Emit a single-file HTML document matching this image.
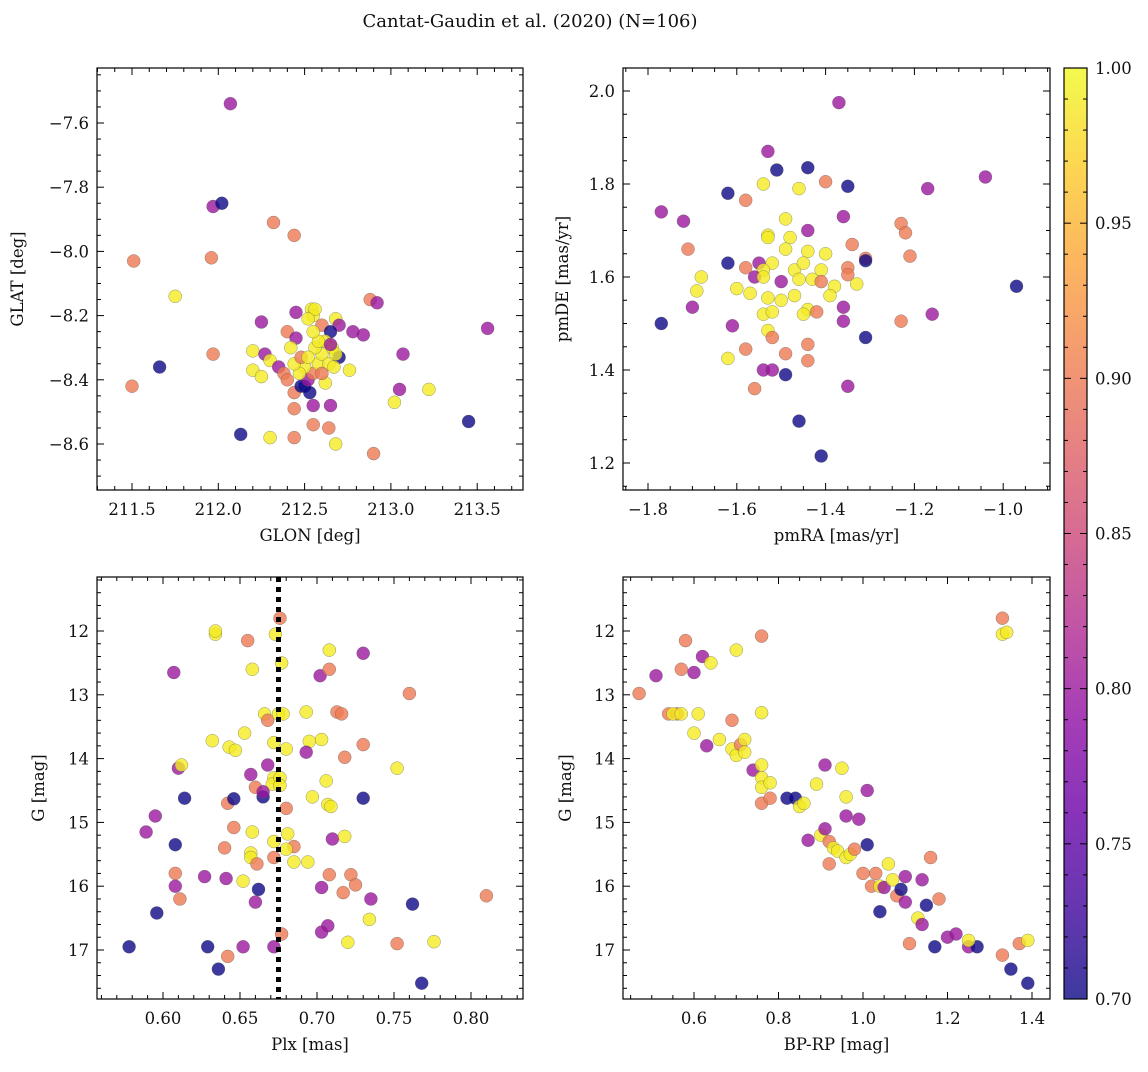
<!DOCTYPE html>
<html><head><meta charset="utf-8"><style>
body{margin:0;background:#fff}
svg text{font-family:"DejaVu Serif","Liberation Serif",serif;fill:#111}
</style></head><body>
<svg id="fig" width="1148" height="1067" xmlns="http://www.w3.org/2000/svg">
<defs>
<linearGradient id="plasma" x1="0" y1="1" x2="0" y2="0">
<stop offset="0" stop-color="#0d0887"/><stop offset="0.1" stop-color="#41049d"/><stop offset="0.2" stop-color="#6a00a8"/><stop offset="0.3" stop-color="#8f0da4"/><stop offset="0.4" stop-color="#b12a90"/><stop offset="0.5" stop-color="#cc4778"/><stop offset="0.6" stop-color="#e16462"/><stop offset="0.7" stop-color="#f2844b"/><stop offset="0.8" stop-color="#fca636"/><stop offset="0.9" stop-color="#fcce25"/><stop offset="1" stop-color="#f0f921"/>
</linearGradient></defs>
<text x="530" y="27" font-size="18" text-anchor="middle">Cantat-Gaudin et al. (2020) (N=106)</text>
<g id="root"></g>
</svg>
<script>
const Y=0.99,O=0.90,M=0.80,B=0.70;
const glonGlat=[[212.07,-7.54,M],[211.97,-7.86,M],[212.02,-7.85,B],[212.32,-7.91,O],[212.44,-7.95,O],[211.51,-8.03,O],[211.96,-8.02,O],[211.75,-8.14,Y],[211.97,-8.32,O],[211.5,-8.42,O],[211.66,-8.36,B],[212.13,-8.57,B],[212.3,-8.58,Y],[212.44,-8.58,O],[212.55,-8.54,O],[212.64,-8.55,O],[212.68,-8.60,Y],[212.9,-8.63,O],[212.55,-8.48,M],[212.65,-8.48,M],[212.44,-8.49,O],[213.02,-8.47,Y],[213.05,-8.43,M],[213.22,-8.43,Y],[213.45,-8.53,B],[213.07,-8.32,M],[213.56,-8.24,M],[212.88,-8.15,O],[212.92,-8.16,M],[212.45,-8.19,M],[212.54,-8.18,Y],[212.55,-8.2,Y],[212.56,-8.18,Y],[212.52,-8.21,Y],[212.6,-8.23,O],[212.68,-8.21,Y],[212.7,-8.23,M],[212.65,-8.25,B],[212.78,-8.25,M],[212.84,-8.26,M],[212.25,-8.22,M],[212.4,-8.25,O],[212.45,-8.27,M],[212.2,-8.31,Y],[212.27,-8.32,M],[212.3,-8.34,Y],[212.2,-8.37,Y],[212.25,-8.39,Y],[212.35,-8.36,M],[212.38,-8.38,O],[212.4,-8.4,O],[212.44,-8.44,O],[212.48,-8.42,B],[212.5,-8.42,B],[212.52,-8.4,M],[212.55,-8.38,O],[212.58,-8.35,Y],[212.6,-8.32,Y],[212.56,-8.3,Y],[212.62,-8.28,Y],[212.66,-8.3,Y],[212.58,-8.28,Y],[212.64,-8.35,Y],[212.7,-8.33,B],[212.68,-8.32,Y],[212.76,-8.37,Y],[212.62,-8.41,Y],[212.5,-8.36,Y],[212.47,-8.38,Y],[212.44,-8.35,Y],[212.42,-8.3,Y],[212.48,-8.33,O],[212.52,-8.33,Y],[212.55,-8.25,Y],[212.6,-8.38,O],[212.65,-8.29,M],[212.67,-8.36,Y],[212.53,-8.44,B]];
const pmRaDe=[[-1.37,1.975,M],[-1.53,1.87,M],[-1.44,1.835,B],[-1.51,1.83,B],[-1.62,1.78,B],[-1.58,1.765,O],[-1.54,1.80,Y],[-1.46,1.79,Y],[-1.40,1.805,O],[-1.35,1.795,B],[-1.17,1.79,M],[-1.04,1.815,M],[-1.77,1.74,M],[-1.72,1.72,M],[-1.49,1.725,Y],[-1.44,1.70,M],[-1.36,1.73,M],[-1.23,1.715,O],[-1.22,1.695,O],[-1.53,1.69,Y],[-1.53,1.685,Y],[-1.48,1.685,Y],[-1.71,1.66,O],[-1.49,1.66,Y],[-1.44,1.655,Y],[-1.4,1.65,Y],[-1.34,1.67,O],[-1.31,1.64,O],[-1.31,1.635,B],[-1.21,1.645,O],[-1.62,1.63,B],[-1.68,1.60,Y],[-1.58,1.62,O],[-1.55,1.63,M],[-1.52,1.63,Y],[-1.54,1.615,Y],[-1.47,1.615,Y],[-1.45,1.63,Y],[-1.41,1.615,Y],[-1.35,1.62,O],[-1.35,1.605,O],[-1.6,1.575,Y],[-1.56,1.6,M],[-1.54,1.6,Y],[-1.50,1.59,M],[-1.46,1.595,Y],[-1.43,1.595,Y],[-1.41,1.59,O],[-1.38,1.58,Y],[-1.33,1.585,Y],[-1.36,1.535,M],[-1.69,1.57,Y],[-1.57,1.565,Y],[-1.53,1.555,Y],[-1.50,1.55,Y],[-1.47,1.56,Y],[-1.44,1.53,Y],[-1.42,1.525,O],[-1.39,1.56,Y],[-1.77,1.50,B],[-1.70,1.535,M],[-1.61,1.495,M],[-1.54,1.52,Y],[-1.52,1.525,Y],[-1.45,1.52,Y],[-1.53,1.485,Y],[-1.36,1.505,M],[-1.23,1.505,O],[-1.16,1.52,M],[-1.31,1.47,B],[-1.52,1.47,O],[-1.62,1.425,Y],[-1.58,1.445,O],[-1.49,1.435,O],[-1.44,1.455,O],[-1.54,1.40,M],[-1.52,1.40,M],[-1.49,1.39,B],[-1.56,1.36,O],[-1.44,1.42,O],[-1.35,1.365,M],[-1.46,1.29,B],[-1.41,1.215,B],[-0.97,1.58,B]];
const plxG=[[0.676,11.8,O],[0.634,12.05,Y],[0.634,12.0,Y],[0.655,12.15,O],[0.673,12.05,Y],[0.708,12.3,Y],[0.73,12.35,M],[0.607,12.65,M],[0.658,12.6,Y],[0.677,12.5,Y],[0.702,12.7,M],[0.708,12.6,O],[0.76,12.98,O],[0.666,13.3,Y],[0.668,13.4,O],[0.675,13.3,Y],[0.678,13.3,Y],[0.693,13.27,Y],[0.713,13.27,O],[0.716,13.3,O],[0.632,13.72,Y],[0.643,13.82,Y],[0.647,13.87,Y],[0.653,13.6,Y],[0.672,13.75,Y],[0.68,13.85,Y],[0.695,13.73,Y],[0.703,13.7,Y],[0.693,13.9,M],[0.718,13.98,O],[0.73,13.78,O],[0.61,14.15,M],[0.612,14.1,Y],[0.657,14.25,M],[0.668,14.1,M],[0.672,14.3,Y],[0.671,14.4,Y],[0.676,14.3,Y],[0.676,14.42,Y],[0.66,14.45,O],[0.665,14.6,B],[0.665,14.52,M],[0.68,14.78,O],[0.706,14.35,Y],[0.697,14.6,Y],[0.707,14.72,Y],[0.709,14.75,Y],[0.73,14.62,B],[0.752,14.15,Y],[0.614,14.62,B],[0.642,14.7,O],[0.646,14.63,B],[0.595,14.9,M],[0.589,15.15,M],[0.608,15.35,B],[0.646,15.08,O],[0.658,15.15,Y],[0.672,15.3,Y],[0.681,15.18,Y],[0.685,15.38,O],[0.71,15.26,M],[0.718,15.22,Y],[0.64,15.4,O],[0.657,15.48,Y],[0.657,15.55,Y],[0.661,15.65,O],[0.672,15.55,O],[0.68,15.42,Y],[0.685,15.62,Y],[0.694,15.62,Y],[0.708,15.82,O],[0.722,15.82,O],[0.725,15.98,O],[0.608,15.8,O],[0.608,16.0,M],[0.611,16.2,O],[0.627,15.85,M],[0.641,15.88,M],[0.652,15.92,Y],[0.662,16.05,B],[0.66,16.25,M],[0.703,16.02,M],[0.717,16.1,O],[0.735,16.2,M],[0.762,16.28,B],[0.81,16.15,O],[0.596,16.42,B],[0.707,16.62,M],[0.703,16.72,M],[0.734,16.52,Y],[0.72,16.88,Y],[0.672,16.95,M],[0.677,16.75,O],[0.578,16.95,B],[0.629,16.95,B],[0.652,16.95,M],[0.642,17.1,O],[0.636,17.3,B],[0.752,16.9,O],[0.776,16.87,Y],[0.768,17.52,B]];
const bprpG=[[0.47,12.98,O],[0.51,12.7,M],[0.54,13.3,O],[0.56,13.3,O],[0.57,12.6,O],[0.58,12.15,O],[0.6,12.65,M],[0.62,12.4,M],[0.64,12.5,Y],[0.55,13.3,Y],[0.57,13.3,Y],[0.61,13.3,Y],[0.6,13.6,Y],[0.63,13.8,M],[0.66,13.7,Y],[0.69,13.85,Y],[0.69,13.4,O],[0.7,13.95,Y],[0.71,13.78,O],[0.72,13.7,Y],[0.72,13.9,Y],[0.74,14.18,M],[0.76,14.1,Y],[0.76,14.3,Y],[0.76,14.45,Y],[0.78,14.38,Y],[0.76,14.7,O],[0.78,14.62,O],[0.76,13.28,Y],[0.7,12.3,Y],[0.76,12.08,O],[0.82,14.62,B],[0.84,14.62,B],[0.85,14.75,Y],[0.86,14.7,Y],[0.87,15.28,M],[0.89,14.4,Y],[0.9,15.2,Y],[0.91,15.1,M],[0.91,14.1,M],[0.92,15.3,O],[0.92,15.65,O],[0.93,15.4,Y],[0.94,15.45,Y],[0.96,15.55,Y],[0.97,15.5,Y],[0.95,14.15,Y],[0.96,14.6,Y],[0.96,14.9,M],[0.98,15.42,O],[0.99,14.95,M],[1.0,15.8,O],[1.01,15.35,B],[1.01,14.5,M],[1.02,16.0,O],[1.03,15.8,O],[1.04,16.4,B],[1.04,16.0,Y],[1.05,16.02,M],[1.06,15.65,Y],[1.07,15.9,Y],[1.08,16.15,O],[1.09,16.05,B],[1.1,15.85,M],[1.1,16.25,M],[1.11,16.9,O],[1.13,16.5,Y],[1.14,15.9,M],[1.14,16.6,M],[1.15,16.3,B],[1.16,15.55,O],[1.18,16.2,O],[1.17,16.95,B],[1.2,16.8,M],[1.22,16.75,M],[1.25,16.95,M],[1.27,16.95,B],[1.25,16.85,Y],[1.33,17.08,O],[1.35,17.3,B],[1.37,16.9,O],[1.39,16.85,Y],[1.39,17.52,B],[1.33,11.8,O],[1.33,12.05,Y],[1.34,12.02,Y]];
const plxLine=0.675;
const cbTicks=[0.70,0.75,0.80,0.85,0.90,0.95,1.00];

const NS="http://www.w3.org/2000/svg";
const root=document.getElementById('root');
function el(t,a,p){const e=document.createElementNS(NS,t);for(const k in a)e.setAttribute(k,a[k]);(p||root).appendChild(e);return e;}
const stops=[[0,[13,8,135]],[0.1,[65,4,157]],[0.2,[106,0,168]],[0.3,[143,13,164]],[0.4,[177,42,144]],[0.5,[204,71,120]],[0.6,[225,100,98]],[0.7,[242,132,75]],[0.8,[252,166,54]],[0.9,[252,206,37]],[1,[240,249,33]]];
function plasma(v){let t=Math.max(0,Math.min(1,(v-0.7)/0.3));for(let i=1;i<stops.length;i++){if(t<=stops[i][0]){const a=stops[i-1],b=stops[i],f=(t-a[0])/(b[0]-a[0]);return 'rgb('+a[1].map((c,j)=>Math.round(c+(b[1][j]-c)*f)).join(',')+')';}}return 'rgb(240,249,33)';}
function fmt(v,d){return (v<0?'\u2212':'')+Math.abs(v).toFixed(d);}
function panel(o){
 const g=el('g',{});
 
 
 const sx=v=>o.x0+(v-o.xr)*o.xs, sy=v=>o.y0+(v-o.yr)*o.ys;
 const L=o.L,R=o.R,T=o.T,Bt=o.B;
 const clip='clip-'+o.name;
 const cp=el('clipPath',{id:clip},g);el('rect',{x:L,y:T,width:R-L,height:Bt-T},cp);
 const pg=el('g',{'clip-path':'url(#'+clip+')'},g);
 o.data.forEach(d=>{const c=el('circle',{cx:sx(d[0]).toFixed(1),cy:sy(d[1]).toFixed(1),r:6.5,fill:plasma(d[2]),'fill-opacity':0.8,stroke:'#555','stroke-opacity':0.6,'stroke-width':0.5},pg);
  
  });
 if(o.vline!==undefined){const l=el('line',{x1:sx(o.vline),x2:sx(o.vline),y1:T,y2:Bt,stroke:'#000','stroke-width':5,'stroke-dasharray':'5,5'},pg);
  
  }
 el('rect',{x:L,y:T,width:R-L,height:Bt-T,fill:'none',stroke:'#000','stroke-width':1.2},g);
 const eps=1e-6;
 for(let v=Math.ceil((o.xmin)/o.xmn-eps)*o.xmn;v<=o.xmax+eps;v+=o.xmn){const X=sx(v);if(X<L-0.5||X>R+0.5)continue;
  const maj=Math.abs(v/o.xmj-Math.round(v/o.xmj))<1e-4;const len=maj?7:4;
  el('line',{x1:X,x2:X,y1:Bt,y2:Bt-len,stroke:'#000','stroke-width':1},g);el('line',{x1:X,x2:X,y1:T,y2:T+len,stroke:'#000','stroke-width':1},g);
  if(maj){const t=el('text',{x:X,y:Bt+25,'font-size':16.5,'text-anchor':'middle'},g);t.textContent=fmt(v,o.xd);
   
   }}
 for(let v=Math.ceil((o.ymin)/o.ymn-eps)*o.ymn;v<=o.ymax+eps;v+=o.ymn){const Yp=sy(v);if(Yp<T-0.5||Yp>Bt+0.5)continue;
  const maj=Math.abs(v/o.ymj-Math.round(v/o.ymj))<1e-4;const len=maj?7:4;
  el('line',{x1:L,x2:L+len,y1:Yp,y2:Yp,stroke:'#000','stroke-width':1},g);el('line',{x1:R,x2:R-len,y1:Yp,y2:Yp,stroke:'#000','stroke-width':1},g);
  if(maj){const t=el('text',{x:L-8,y:Yp+6,'font-size':16.5,'text-anchor':'end'},g);t.textContent=fmt(v,o.yd);
   
   }}
 const xt=el('text',{x:(L+R)/2,y:Bt+51,'font-size':16.5,'text-anchor':'middle'},g);xt.textContent=o.xl;
 
 
 const cy=(T+Bt)/2;const yt=el('text',{x:o.ylx,y:cy,'font-size':16.5,'text-anchor':'middle',transform:'rotate(-90 '+o.ylx+' '+cy+')'},g);yt.textContent=o.yl;
 
 
}
function mk(o){o.xmin=o.xr+(o.L-o.x0)/o.xs;o.xmax=o.xr+(o.R-o.x0)/o.xs;const a=o.yr+(o.T-o.y0)/o.ys,b=o.yr+(o.B-o.y0)/o.ys;o.ymin=Math.min(a,b);o.ymax=Math.max(a,b);panel(o);}
mk({name:'glon-glat-panel',data:glonGlat,L:97,R:523,T:68,B:490,x0:132,xr:211.5,xs:172.6,y0:123,yr:-7.6,ys:-321,xmj:0.5,xmn:0.1,ymj:0.2,ymn:0.05,xd:1,yd:1,xl:'GLON [deg]',yl:'GLAT [deg]',ylx:23});
mk({name:'pm-panel',data:pmRaDe,L:623,R:1050,T:68,B:490,x0:648,xr:-1.8,xs:444,y0:91,yr:2.0,ys:-465,xmj:0.2,xmn:0.05,ymj:0.2,ymn:0.05,xd:1,yd:1,xl:'pmRA [mas/yr]',yl:'pmDE [mas/yr]',ylx:568});
mk({name:'plx-g-panel',data:plxG,vline:plxLine,L:97,R:523,T:577,B:999,x0:240,xr:0.65,xs:1540,y0:631,yr:12,ys:63.8,xmj:0.05,xmn:0.01,ymj:1,ymn:0.2,xd:2,yd:0,xl:'Plx [mas]',yl:'G [mag]',ylx:44});
mk({name:'cmd-panel',data:bprpG,L:623,R:1050,T:577,B:999,x0:694,xr:0.6,xs:422.5,y0:631,yr:12,ys:63.8,xmj:0.2,xmn:0.05,ymj:1,ymn:0.2,xd:1,yd:0,xl:'BP-RP [mag]',yl:'G [mag]',ylx:571});
const cb=el('g',{});


const cT=68,cB=999,cL=1064,cR=1087;
el('rect',{x:cL,y:cT,width:cR-cL,height:cB-cT,fill:'url(#plasma)','fill-opacity':0.8},cb);
el('rect',{x:cL,y:cT,width:cR-cL,height:cB-cT,fill:'none',stroke:'#000','stroke-width':1.2},cb);
const cy=v=>cB-(v-0.7)/0.3*(cB-cT);
for(let i=0;i<=30;i++){const v=0.7+i*0.01;const Yp=cy(v);const maj=i%5===0;el('line',{x1:cR,x2:cR-(maj?7:4),y1:Yp,y2:Yp,stroke:'#000'},cb);el('line',{x1:cL,x2:cL+(maj?7:4),y1:Yp,y2:Yp,stroke:'#000'},cb);}
cbTicks.forEach(v=>{const t=el('text',{x:cR+8,y:cy(v)+6,'font-size':16.5},cb);t.textContent=v.toFixed(2);
 
 });
</script>
</body></html>
